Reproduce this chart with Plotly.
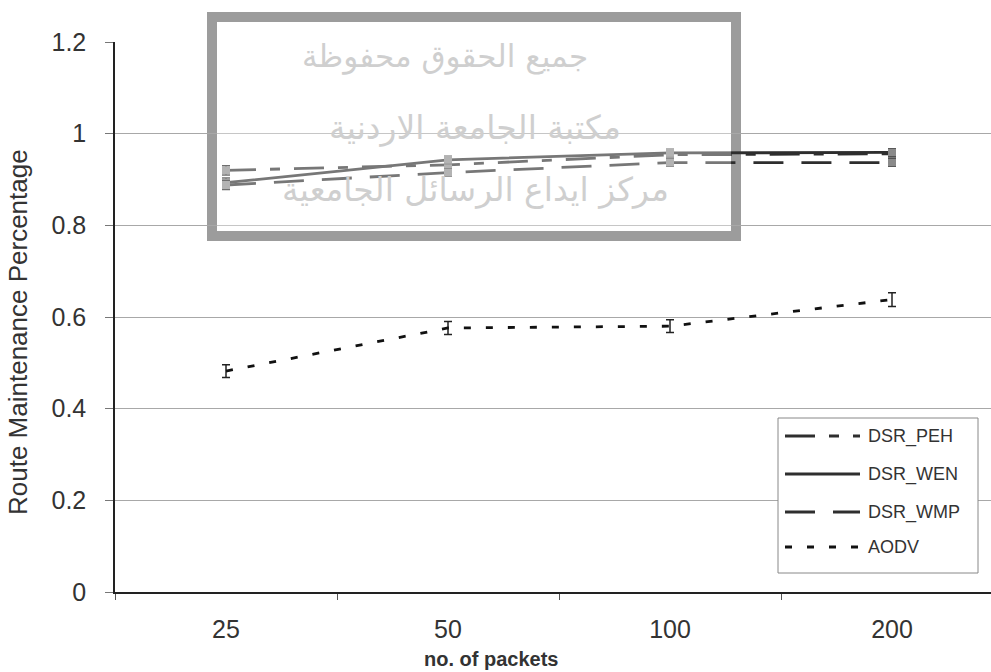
import plotly.graph_objects as go

categories = ["25", "50", "100", "200"]
dsr_peh = [0.920, 0.932, 0.954, 0.956]
dsr_wen = [0.893, 0.943, 0.958, 0.959]
dsr_wmp = [0.888, 0.915, 0.937, 0.937]
aodv = [0.482, 0.576, 0.580, 0.638]
err_dsr = [0.010, 0.008, 0.008, 0.008]
err_aodv = [0.014, 0.014, 0.014, 0.015]
series_names = ["DSR_PEH", "DSR_WEN", "DSR_WMP", "AODV"]
y_ticks = [0, 0.2, 0.4, 0.6, 0.8, 1.0, 1.2]
y_ticklabels = ["0", "0.2", "0.4", "0.6", "0.8", "1", "1.2"]
watermark = ["جميع الحقوق محفوظة", "مكتبة الجامعة الاردنية", "مركز ايداع الرسائل الجامعية"]

FONT = "Arial, Liberation Sans, sans-serif"
W, H = 991, 672
L, T, B, R = 115, 42, 80, 0
pw, ph = W - L - R, H - T - B

def px_x(x):
    return (x - L) / pw

def px_y(y):
    return (H - B - y) / ph

fig = go.Figure()

styles = [
    ("#2e2e2e", "30px,14px,10px,14px", True),
    ("#2e2e2e", "solid", True),
    ("#2e2e2e", "30px,18px", True),
    ("#111111", "7px,15px", False),
]
values = [dsr_peh, dsr_wen, dsr_wmp, aodv]
errors = [err_dsr, err_dsr, err_dsr, err_aodv]

for name, vals, err, (col, dash, mk) in zip(series_names, values, errors, styles):
    fig.add_trace(go.Scatter(
        x=categories, y=vals, name=name, showlegend=False,
        mode="lines+markers" if mk else "lines",
        line=dict(color=col, width=2.8, dash=dash),
        marker=dict(symbol="square", size=8, color="#8a8a8a") if mk else None,
        error_y=dict(type="data", array=err, color="#222", thickness=1.5, width=4),
    ))

# watermark frame, translucent overlay and text
fig.add_shape(type="rect", xref="paper", yref="paper",
              x0=px_x(212), x1=px_x(736), y0=px_y(236), y1=px_y(17),
              line=dict(color="#9c9c9c", width=10), layer="below")
fig.add_shape(type="rect", xref="paper", yref="paper",
              x0=px_x(217), x1=px_x(731), y0=px_y(231), y1=px_y(22),
              line=dict(width=0), fillcolor="rgba(255,255,255,0.35)", layer="above")
for txt, (xc, yc), sz in zip(watermark, [(445, 57), (475, 127), (475, 190)], [31, 33, 33]):
    fig.add_annotation(text=txt, xref="paper", yref="paper", x=px_x(xc), y=px_y(yc),
                       showarrow=False, xanchor="center", yanchor="middle",
                       font=dict(family="DejaVu Sans", size=sz, color="#cfcfcf"))

# axis titles
fig.add_annotation(text="Route Maintenance Percentage", xref="paper", yref="paper",
                   x=px_x(18), y=px_y(332), textangle=-90, showarrow=False,
                   xanchor="center", yanchor="middle",
                   font=dict(family=FONT, size=26, color="#333"))
fig.add_annotation(text="<b>no. of packets</b>", xref="paper", yref="paper",
                   x=px_x(491), y=px_y(659), showarrow=False,
                   xanchor="center", yanchor="middle",
                   font=dict(family=FONT, size=20, color="#333"))

# legend box
fig.add_shape(type="rect", xref="paper", yref="paper",
              x0=px_x(778), x1=px_x(978), y0=px_y(573), y1=px_y(418),
              line=dict(color="#888", width=1), fillcolor="white", layer="above")
leg_y = [436, 474, 512, 547]
for name, (col, dash, mk), yy in zip(series_names, styles, leg_y):
    fig.add_shape(type="line", xref="paper", yref="paper",
                  x0=px_x(785), x1=px_x(860), y0=px_y(yy), y1=px_y(yy),
                  line=dict(color=col, width=3, dash=dash), layer="above")
    fig.add_annotation(text=name, xref="paper", yref="paper", x=px_x(866), y=px_y(yy),
                       showarrow=False, xanchor="left", yanchor="middle",
                       font=dict(family=FONT, size=18, color="#333"))

fig.update_layout(
    width=W, height=H,
    margin=dict(l=L, r=R, t=T, b=B),
    paper_bgcolor="white", plot_bgcolor="white",
    font=dict(family=FONT, color="#333"),
    showlegend=False,
    xaxis=dict(type="category", categoryorder="array", categoryarray=categories,
               range=[-0.5, 3.5 - (L + 4 * 222 - W) / 222],
               showline=True, linecolor="#222", linewidth=1.5,
               ticks="outside", tickson="boundaries", ticklen=6, tickcolor="#555",
               ticklabelstandoff=14,
               showgrid=False, tickfont=dict(family=FONT, size=25, color="#333")),
    yaxis=dict(range=[0, 1.2], tickvals=y_ticks, ticktext=y_ticklabels,
               showline=True, linecolor="#222", linewidth=1.5,
               ticks="outside", ticklen=8, tickcolor="#777",
               ticklabelstandoff=14,
               showgrid=True, gridcolor="#a8a8a8", gridwidth=1,
               zeroline=False, tickfont=dict(family=FONT, size=25, color="#333")),
)

fig.write_html("out.html")
